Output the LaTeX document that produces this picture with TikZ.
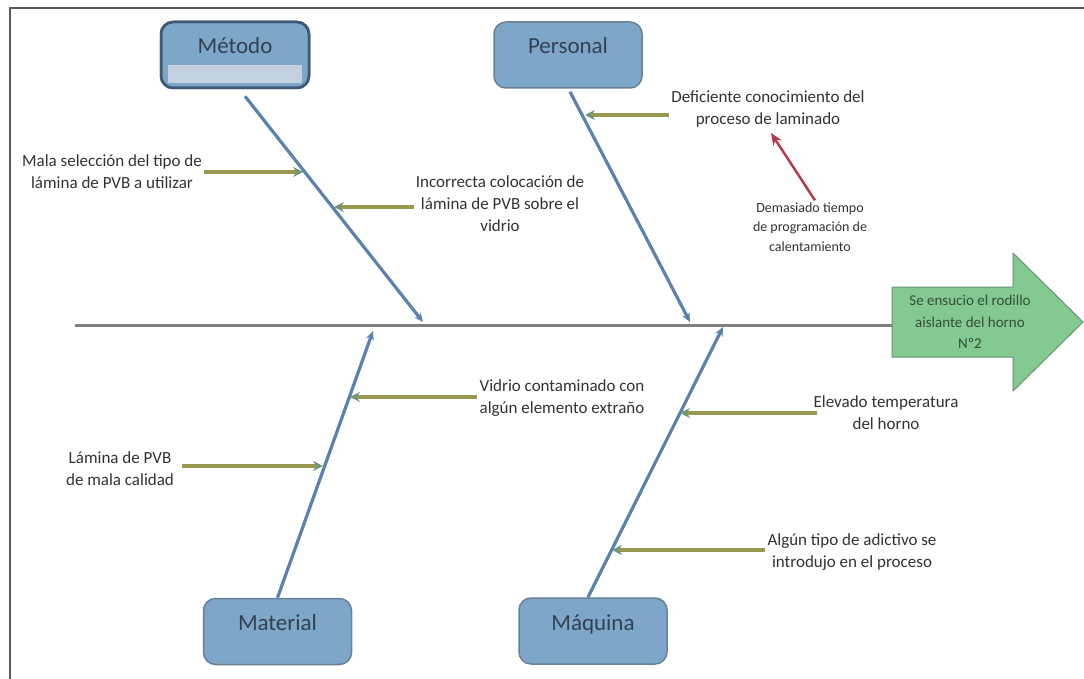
\documentclass[tikz,border=0pt]{standalone}
\usepackage{fontspec}
\setmainfont{Carlito}
\usetikzlibrary{arrows.meta, calc}
\definecolor{boxblue}{RGB}{126,166,200}
\definecolor{boxline}{RGB}{105,128,150}
\definecolor{boxdark}{RGB}{60,88,118}
\definecolor{bandblue}{RGB}{196,210,224}
\definecolor{labeltext}{RGB}{50,64,84}
\definecolor{causetext}{RGB}{50,50,50}
\definecolor{bone}{RGB}{90,130,172}
\definecolor{olivegreen}{RGB}{152,152,78}
\definecolor{tipgreen}{RGB}{115,150,120}
\definecolor{redarrow}{RGB}{180,60,80}
\definecolor{effectfill}{RGB}{132,200,146}
\definecolor{effectline}{RGB}{100,150,112}
\definecolor{effecttext}{RGB}{50,80,56}
\definecolor{spinegray}{RGB}{128,128,128}
\definecolor{framegray}{RGB}{90,90,90}

\begin{document}
\begin{tikzpicture}[x=1pt, y=-1pt,
  every node/.style={font=\fontsize{17}{22}\selectfont, text=causetext, align=center, inner sep=2pt},
  categoria/.style={draw=boxline, line width=1.5pt, fill=boxblue, rounded corners=12pt,
    minimum width=148pt, inner sep=0pt, text height=32pt, text depth=34pt,
    font=\fontsize{23}{26}\selectfont, text=labeltext},
  hueso/.style={draw=bone, line width=3.2pt, -{Stealth[length=9pt,width=8pt]}},
  causa/.style={draw=olivegreen, line width=3.5pt,
    -{Stealth[length=10pt,width=10pt,color=tipgreen]}},
  rojo/.style={draw=redarrow, line width=2.5pt, -{Stealth[length=12pt,width=10pt]}}]
  \useasboundingbox (0,0) rectangle (1084,679);
  \draw[framegray, line width=1.5pt] (10,679) -- (10,8) -- (1084,8);

  % spine and effect
  \coordinate (inicio) at (75,325);
  \coordinate (cola) at (892,325);
  \draw[spinegray, line width=3pt] (inicio) -- (cola);
  \draw[effectline, fill=effectfill, line width=1pt] (892,287) -- (1013,287) -- (1013,253)
    -- (1083,322) -- (1013,391) -- (1013,357) -- (892,357) -- cycle;
  \node[font=\fontsize{15}{21.5}\selectfont, text=effecttext] (efecto) at (970,322)
    {Se ensucio el rodillo\\aislante del horno\\Nº2};

  % categories
  \node[categoria, draw=boxdark, line width=2.5pt] (metodo) at (235,55) {};
  \fill[bandblue] ($(metodo.south west)+(8,-6)$) rectangle ($(metodo.east)+(-8,10)$);
  \node[categoria, fill=none, draw=boxdark, line width=2.5pt] (metodotxt) at (metodo) {Método};
  \node[categoria] (personal) at (568,55) {Personal};
  \node[categoria] (material) at (277.5,631.5) {Material};
  \node[categoria] (maquina) at (593,631) {Máquina};

  \coordinate (hm) at (423,322);
  \coordinate (hp) at (690,322);
  \coordinate (hma) at (373,331);
  \coordinate (hq) at (723,327);
  \draw[hueso] ([xshift=10pt,yshift=-7pt]metodo.south) -- (hm);
  \draw[hueso] ([xshift=2pt,yshift=-3pt]personal.south) -- (hp);
  \draw[hueso] (material.north) -- (hma);
  \draw[hueso] ([xshift=-5pt]maquina.north) -- (hq);

  % causes
  \node (mala) at (112,172) {Mala selección del tipo de\\lámina de PVB a utilizar};
  \node (incorrecta) at (500,204) {Incorrecta colocación de\\lámina de PVB sobre el\\vidrio};
  \node (deficiente) at (768,108.5) {Deficiente conocimiento del\\proceso de laminado};
  \node[font=\fontsize{14}{19.5}\selectfont] (demasiado) at (810,227)
    {Demasiado tiempo\\de programación de\\calentamiento};
  \node (vidrio) at (562,398) {Vidrio contaminado con\\algún elemento extraño};
  \node (lamina) at (120,469) {Lámina de PVB\\de mala calidad};
  \node (elevado) at (886,413) {Elevado temperatura\\del horno};
  \node (algun) at (852,552) {Algún tipo de adictivo se\\introdujo en el proceso};

  \coordinate (m1) at (303,172);
  \coordinate (i1) at (334,207);
  \coordinate (p1) at (585,115);
  \coordinate (r1) at (771,133);
  \coordinate (v1) at (350,397);
  \coordinate (l1) at (323,466);
  \coordinate (e1) at (680,413);
  \coordinate (a1) at (612,550);
  \draw[causa] (mala.east |- m1) -- (m1);
  \draw[causa] (incorrecta.west |- i1) -- (i1);
  \draw[causa] (deficiente.west |- p1) -- (p1);
  \draw[rojo] ([xshift=5pt]demasiado.north) -- (r1);
  \draw[causa] (vidrio.west |- v1) -- (v1);
  \draw[causa] ([xshift=6pt]lamina.east |- l1) -- (l1);
  \draw[causa] ([xshift=6pt]elevado.west |- e1) -- (e1);
  \draw[causa] (algun.west |- a1) -- (a1);
\end{tikzpicture}
\end{document}
